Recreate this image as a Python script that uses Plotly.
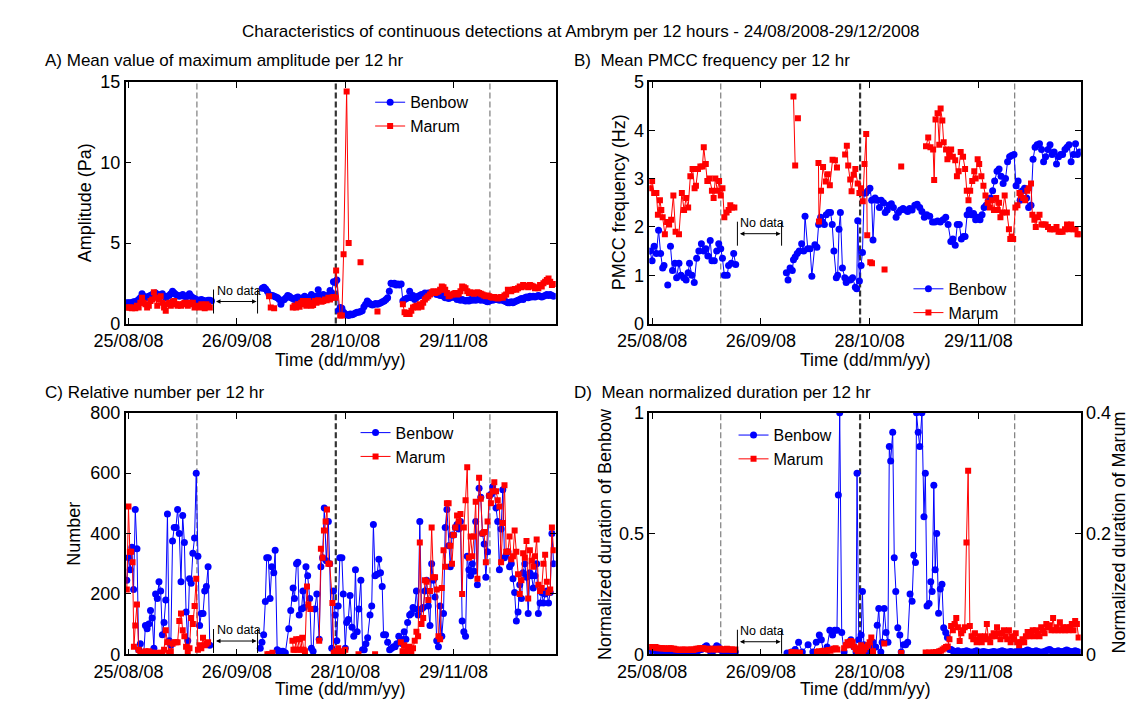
import datetime as dt
import plotly.graph_objects as go

# ---------------------------------------------------------------- data
# Day offsets are counted from 25/08/2008 00:00.  A tuple (start, values)
# is a run of 12-hourly values; a list holds (day, value) readings; None
# marks a break (no data) in the series.
BASE = dt.datetime(2008, 8, 25)
X_RANGE = ["2008-08-24 04:00", "2008-12-29 03:00"]
TICK_DATES = ["2008-08-25", "2008-09-26", "2008-10-28", "2008-11-29"]
TICK_TEXT = ["25/08/08", "26/09/08", "28/10/08", "29/11/08"]
EVENT_DAYS = [20.2, 61.2, 106.7]          # dashed markers (middle one = main event)
NO_DATA_DAYS = [25.1, 38.1]
SERIES_NAMES = ["Benbow", "Marum"]

# A) mean maximum amplitude (Pa)
A_BENBOW = [
    (-0.5, [1.3, 1.3, 1.3, 1.3, 1.35, 1.35, 1.4, 1.5, 1.6, 1.85,
            1.7, 1.6, 1.65, 1.7, 1.75, 1.8, 1.85, 1.9, 1.8, 1.75,
            1.8, 1.85, 1.7, 1.6, 1.7, 1.75, 1.85, 2.0, 1.9, 1.8,
            1.75, 1.7, 1.75, 1.8, 1.7, 1.65, 1.75, 1.85, 1.7, 1.6,
            1.55, 1.5, 1.45, 1.45, 1.5, 1.45, 1.4, 1.4, 1.45, 1.45,
            1.4]),
    None,
    (39.5, [2.2, 2.25, 2.15, 2.0, 1.8, 1.75, 1.75, 1.7, 1.65, 1.6,
            1.5, 1.2, 1.45, 1.5, 1.6, 1.75, 1.7, 1.6, 1.55, 1.5,
            1.6, 1.65, 1.55, 1.45, 1.6, 1.7, 1.55, 1.5, 1.65, 1.8,
            1.7, 1.65, 1.7, 2.1, 1.75, 1.7, 1.8, 1.75, 1.7, 1.75,
            2.05, 1.9, 2.6, 2.55, 2.7, 0.8, 1.0, 0.95, 0.7, 0.6,
            0.55, 0.5, 0.6, 0.55, 0.6, 0.65, 0.7, 0.7, 0.75, 0.8,
            1.05, 1.2, 1.4, 1.3, 1.2, 1.15, 1.2, 1.25, 1.2, 1.25,
            1.3, 1.35, 1.4, 1.5, 1.6, 2.0, 2.5, 2.45, 2.5, 2.4,
            2.45, 2.4, 2.45, 1.4, 1.5, 1.55, 1.6, 2.0, 1.6, 1.75,
            1.5, 1.6, 1.7, 1.75, 1.8, 1.75, 1.9, 1.85, 1.9, 1.85,
            1.9, 1.95, 1.9, 1.8, 1.85, 1.75, 1.8, 1.7, 1.6, 1.65,
            1.55, 1.6, 1.65, 1.7, 1.6, 1.5, 1.55, 1.45, 1.5, 1.45,
            1.4, 1.45, 1.4, 1.5, 1.45, 1.5, 1.45, 1.5, 1.55, 1.45,
            1.5, 1.45, 1.4, 1.35, 1.4, 1.5, 1.45, 1.5, 1.5, 1.5,
            1.45, 1.5, 1.45, 1.4, 1.35, 1.3, 1.3, 1.35, 1.3, 1.35,
            1.4, 1.45, 1.5, 1.55, 1.5, 1.6, 1.65, 1.6, 1.7, 1.65,
            1.7, 1.65, 1.7, 1.75, 1.7, 1.65, 1.7, 1.75, 1.8, 1.75,
            1.8, 1.75, 1.7]),
]
A_MARUM = [
    (-0.5, [1.0, 1.0, 1.0, 0.95, 1.0, 0.95, 1.1, 1.0, 1.3, 1.6,
            1.3, 1.2, 1.0, 1.1, 1.4, 1.5, 1.95, 1.6, 1.1, 1.5,
            1.7, 1.3, 1.0, 0.8, 1.2, 1.3, 1.1, 1.35, 1.4, 1.2,
            1.1, 1.2, 1.1, 1.2, 1.3, 1.25, 1.1, 1.3, 1.2, 1.3,
            1.0, 1.05, 1.1, 1.0, 1.2, 1.15, 0.95, 1.2, 1.1, 1.0]),
    None, (41.5, [1.7, 1.0]),
    None, [(43.0, 0.95)],
    None,
    (48.5, [1.0, 1.1, 1.0, 1.2, 1.05, 1.3, 1.4, 1.2, 1.1, 1.4,
            1.3, 1.1, 1.15, 1.4, 1.3, 1.45, 1.4, 1.35]),
    [(57.5, 1.4), (58.0, 1.5), (58.5, 1.45), (59.0, 1.6), (59.5, 1.5),
     (60.0, 1.6), (60.5, 1.65), (61.0, 1.6), (61.3, 3.3), (62.5, 0.5),
     (63.0, 0.5), (63.5, 4.3), (64.4, 14.4), (65.0, 5.0)],
    None, [(68.5, 3.8)],
    None, [(73.5, 0.75)],
    None,
    (81.0, [1.2, 0.7, 0.6, 0.65, 0.6, 0.8, 1.0, 1.05, 1.1, 1.0,
            1.2, 1.05, 1.3, 1.5, 1.6, 1.7, 1.8, 1.95, 2.0, 1.9,
            1.95, 2.0, 2.1, 2.3, 2.25, 2.1, 1.9, 1.7, 1.75, 1.8,
            1.85, 1.9, 1.8, 1.85, 2.0, 2.3, 2.25, 2.2, 2.0, 1.9,
            1.95, 1.9, 1.85, 1.9, 1.95, 1.9, 1.85, 1.8, 1.75, 1.7,
            1.75, 1.7, 1.65, 1.6, 1.65, 1.6, 1.55, 1.6, 1.65, 1.6,
            1.75, 1.8, 2.1, 2.05, 2.0, 2.1, 2.15, 2.1, 2.2, 2.3,
            2.25, 2.4, 2.3, 2.35, 2.25, 2.4, 2.35, 2.3, 2.2, 2.25,
            2.2, 2.4, 2.3, 2.5, 2.6, 2.7, 2.8, 2.6, 2.4, 2.45]),
]

# B) mean PMCC frequency (Hz)
B_BENBOW = [
    [(-0.6, 1.5), (0.0, 1.3), (0.6, 1.6), (1.25, 1.45), (1.9, 1.93),
     (2.5, 1.45), (3.1, 1.15), (3.5, 1.2)],
    None, [(4.6, 0.8)], None,
    [(5.4, 1.6), (6.0, 1.1), (6.7, 1.25), (7.2, 0.95), (7.9, 1.25),
     (8.5, 1.0), (9.3, 0.95), (10.0, 0.9), (10.6, 1.05), (11.0, 1.25),
     (11.7, 1.0), (12.4, 0.85), (13.1, 1.35), (13.75, 1.5), (14.5, 1.65),
     (15.2, 1.5), (15.8, 1.55), (16.4, 1.4), (17.1, 1.72), (17.6, 1.3),
     (18.3, 1.3), (19.0, 1.5), (19.6, 1.65), (20.2, 1.55), (20.7, 1.35),
     (21.25, 1.0), (22.1, 1.0), (22.5, 1.2), (23.3, 1.25), (24.0, 1.45),
     (24.6, 1.22)],
    None,
    [(39.5, 1.05), (40.0, 0.9), (40.6, 1.15), (41.25, 1.1), (41.6, 1.32),
     (42.1, 1.38), (42.7, 1.45), (43.3, 1.5), (44.0, 1.65), (44.6, 1.5),
     (45.0, 2.22), (45.8, 1.55), (46.5, 1.55), (47.0, 0.98), (47.9, 1.63),
     (48.5, 1.58), (49.0, 2.05), (49.6, 2.2), (50.2, 2.1), (50.7, 2.05),
     (51.25, 2.25), (51.9, 2.3), (52.5, 2.3), (53.0, 2.05), (53.5, 1.5),
     (54.2, 0.95), (54.6, 1.0), (55.0, 1.95), (55.4, 2.3), (56.0, 1.15),
     (56.7, 0.95), (57.1, 0.85), (57.7, 0.9), (58.3, 0.9), (59.0, 0.95),
     (59.8, 0.75), (60.2, 0.72), (60.5, 2.13), (61.0, 0.88), (61.5, 1.2),
     (61.9, 1.47), (62.4, 2.7), (62.9, 2.7), (63.5, 2.75), (64.1, 2.8),
     (64.6, 2.55), (65.0, 1.73), (65.6, 2.6), (66.25, 2.55), (66.9, 2.4),
     (67.4, 2.55), (68.1, 2.5), (68.6, 2.3), (69.2, 2.35), (69.7, 2.45),
     (70.4, 2.48), (71.0, 2.4), (71.8, 2.2), (72.5, 2.3), (73.1, 2.35),
     (73.85, 2.38), (74.6, 2.35), (75.2, 2.32), (75.8, 2.38), (76.5, 2.35),
     (77.3, 2.45), (78.0, 2.47), (78.75, 2.4), (79.4, 2.32), (80.1, 2.2),
     (80.8, 2.25), (81.7, 2.22), (82.5, 2.1), (83.2, 2.1), (84.0, 2.12),
     (84.8, 2.1), (85.6, 2.15), (86.4, 2.2), (87.1, 2.05), (87.9, 1.7),
     (88.5, 1.75), (89.2, 1.62), (89.8, 2.05), (90.4, 2.05), (91.0, 1.75),
     (91.6, 1.8), (92.1, 1.8), (92.7, 2.25), (93.3, 2.35), (94.0, 2.25),
     (94.6, 2.28), (95.2, 2.15), (95.8, 2.2), (96.5, 2.15), (97.1, 2.25),
     (97.7, 2.4), (98.3, 2.45), (99.0, 2.55), (99.6, 2.6), (100.2, 2.75),
     (100.8, 2.95), (101.5, 3.15), (102.1, 3.2), (102.7, 3.05), (103.3, 2.9),
     (104.0, 3.0), (104.6, 3.35), (105.2, 3.45), (105.8, 3.48), (106.5, 3.5),
     (107.1, 2.85), (107.7, 2.95), (108.3, 2.55), (109.0, 2.75), (109.6, 2.8),
     (110.2, 2.6), (110.8, 2.4), (111.5, 2.45), (112.1, 3.4), (112.7, 3.65),
     (113.3, 3.7), (114.0, 3.72), (114.6, 3.6), (115.2, 3.35), (115.8, 3.45),
     (116.5, 3.6), (117.1, 3.7), (117.7, 3.5), (118.3, 3.55), (119.0, 3.3),
     (119.6, 3.45), (120.2, 3.5), (120.8, 3.5), (121.5, 3.6), (122.1, 3.65),
     (122.7, 3.7), (123.3, 3.35), (124.0, 3.5), (124.6, 3.72), (125.2, 3.5),
     (125.8, 3.55)],
]
B_MARUM = [
    [(-0.6, 2.8), (0.0, 2.95), (0.6, 2.7), (1.25, 2.7), (1.7, 2.25),
     (2.3, 2.55), (2.7, 2.35), (3.1, 2.2), (3.75, 1.85), (4.4, 2.1),
     (5.0, 2.05), (5.6, 2.15), (6.25, 2.65), (6.9, 1.9), (7.9, 1.85),
     (8.75, 2.7), (9.4, 2.35), (10.0, 2.6), (10.6, 2.4), (11.25, 3.05),
     (11.9, 3.2), (12.5, 2.8), (12.9, 2.85), (13.5, 3.2), (14.2, 3.25),
     (14.8, 3.25), (15.2, 3.65), (15.8, 3.3), (16.25, 2.95), (16.9, 3.0),
     (17.6, 2.75), (18.1, 2.6), (18.6, 3.0), (19.2, 2.75), (19.7, 2.95),
     (20.2, 2.65), (20.7, 2.8), (21.25, 2.2), (21.9, 2.3), (22.5, 2.35),
     (23.0, 2.45), (23.5, 2.4), (24.2, 2.4)],
    None, [(41.6, 4.7), (42.1, 3.27)],
    None, [(42.9, 4.25)],
    None,
    [(48.95, 3.32), (49.1, 2.11), (49.7, 2.75), (50.3, 3.24), (51.1, 2.94),
     (51.7, 3.09), (52.3, 2.86), (53.1, 3.39), (53.8, 3.38), (54.4, 3.23)],
    None,
    [(56.8, 3.5), (57.3, 3.68), (57.7, 3.27), (58.3, 2.98), (58.7, 2.74),
     (59.3, 3.08), (59.8, 3.2), (60.5, 2.9), (61.0, 2.7), (61.5, 2.8),
     (62.0, 2.53), (62.5, 3.3), (63.0, 3.92), (63.3, 1.83)],
    None, [(64.2, 1.27), (64.7, 1.25)],
    None, [(68.4, 1.12)],
    None, [(73.3, 3.25)],
    None,
    [(80.6, 3.67), (81.25, 3.85), (81.9, 3.65), (82.7, 3.6), (83.0, 2.97),
     (83.4, 4.22), (84.0, 4.35), (84.5, 3.7), (84.9, 4.45), (85.4, 4.2),
     (85.8, 3.75), (86.5, 3.6), (86.9, 3.4), (87.5, 3.5), (88.0, 3.6),
     (88.5, 3.45), (89.2, 3.38), (89.7, 3.05), (90.2, 3.15), (90.8, 3.55),
     (91.5, 3.45), (92.1, 3.2), (92.6, 2.75), (93.1, 2.55), (93.6, 2.75),
     (94.2, 2.95), (94.8, 3.15), (95.2, 3.0), (95.8, 3.4), (96.25, 3.3),
     (96.9, 3.05), (97.5, 2.85), (98.1, 2.65), (98.75, 2.5), (99.4, 2.4),
     (100.0, 2.55), (100.6, 2.35), (101.25, 2.6), (101.7, 2.35), (102.1, 2.5),
     (102.5, 2.2), (103.1, 2.3), (103.75, 2.65), (104.4, 2.3), (105.0, 1.95),
     (105.4, 1.75), (105.8, 1.8), (106.25, 1.75), (106.9, 2.4), (107.5, 2.45),
     (108.1, 2.7), (108.5, 2.65), (109.2, 2.6), (109.8, 2.55), (110.4, 2.75),
     (110.8, 2.8), (111.5, 2.9), (111.9, 2.25), (112.5, 2.15), (112.9, 2.0),
     (113.3, 2.2), (114.0, 2.25), (114.6, 2.05), (115.2, 2.05), (115.8, 2.05),
     (116.5, 2.0), (117.1, 1.95), (117.7, 1.95), (118.3, 1.95), (119.0, 2.0),
     (119.6, 1.9), (120.2, 1.9), (120.8, 1.9), (121.5, 1.95), (122.1, 2.05),
     (122.7, 1.95), (123.3, 2.05), (124.0, 1.95), (124.6, 1.95), (125.2, 1.85),
     (125.8, 1.85)],
]

# C) relative number per 12 hr
C_BENBOW = [
    (-0.5, [245, 320, 280, 355, 215, 480, 350, 15, 35, 5,
            0, 95, 85, 100, 145, 120, 20, 200, 185, 240,
            210, 65, 105, 180, 465, 45, 30, 375, 420, 420,
            480, 400, 240, 460, 370, 140, 45, 250, 235, 335,
            385, 600, 325, 95, 135, 135, 210, 225, 290, 30]),
    None,
    [(38.9, 20), (39.4, 40), (39.9, 65), (40.4, 175), (40.8, 320),
     (41.3, 320), (41.8, 185), (42.3, 290), (42.9, 270), (43.3, 345),
     (43.9, 15), (44.4, 0), (44.9, 10), (45.6, 10), (46.3, 5),
     (47.3, 85), (47.9, 145), (48.6, 220), (49.0, 185), (49.6, 300),
     (50.0, 305), (50.4, 130), (51.1, 150), (51.5, 210), (51.9, 155),
     (52.4, 290), (52.9, 260), (53.5, 185), (54.0, 20), (54.5, 10),
     (55.0, 150), (55.6, 200), (56.3, 50), (56.8, 290), (57.3, 320),
     (57.8, 485), (58.4, 310), (59.0, 440), (59.4, 300), (60.0, 20),
     (60.5, 210), (61.0, 130), (61.5, 45), (61.9, 160), (62.4, 320),
     (63.0, 320), (63.4, 200), (64.0, 20), (64.4, 105), (64.9, 115),
     (65.4, 195), (66.0, 90), (66.5, 60), (67.0, 280), (67.5, 75),
     (68.0, 150), (68.6, 245), (69.1, 15), (69.6, 15), (70.1, 35),
     (70.6, 55), (71.3, 130), (71.8, 160), (72.3, 430), (72.8, 260),
     (73.4, 265), (73.9, 315), (74.4, 270), (74.9, 225), (75.3, 65),
     (75.9, 65), (76.5, 40), (77.1, 15), (77.7, 20), (78.2, 25),
     (78.7, 25), (79.2, 35), (79.8, 60), (80.4, 50), (80.9, 35),
     (81.4, 75), (81.9, 50), (82.4, 105), (83.0, 130), (83.5, 135),
     (84.0, 155), (84.5, 150), (85.0, 210), (85.5, 130)],
    (86.0, [440, 150, 155, 210, 245, 160, 95, 300, 245, 190,
            45, 25, 160, 60, 135, 420, 480, 360, 290, 395,
            395, 420, 430, 415, 440, 110, 75, 60, 325, 280,
            260, 300, 275, 440, 230, 550, 520, 400, 365, 255,
            340, 525, 530, 555, 540, 485, 440, 280, 415, 545,
            320, 330, 340, 290, 300, 250, 205, 110, 140, 230,
            185, 270, 300, 255, 135, 270, 260, 220, 260, 300,
            135, 170, 205, 170, 200, 210, 170, 205, 400, 300]),
]
C_MARUM = [
    [(-0.5, 215), (0.0, 490), (0.4, 340), (0.8, 340), (1.2, 305),
     (1.6, 25), (2.0, 95), (2.5, 165), (3.0, 15), (3.5, 5),
     (4.0, 5), (5.0, 10), (5.5, 5), (6.0, 10), (6.5, 5),
     (7.0, 5), (8.0, 5), (8.5, 0), (9.5, 5), (10.0, 5),
     (10.5, 15), (11.0, 80), (11.5, 40), (12.0, 5), (12.5, 10),
     (13.0, 35), (13.5, 40), (14.0, 40), (14.5, 40), (15.0, 110),
     (15.5, 135), (16.0, 80), (16.5, 60), (17.0, 25), (17.5, 10),
     (18.0, 20), (18.5, 120), (19.0, 100), (19.5, 160), (20.0, 250),
     (20.5, 15), (21.0, 30), (21.5, 20), (22.0, 55), (22.5, 30),
     (23.0, 35), (23.5, 40)],
    None, [(41.0, 0), (41.5, 0), (42.5, 5)],
    None,
    [(48.4, 45), (48.7, 15), (49.1, 15), (49.5, 50), (49.9, 15),
     (50.4, 50), (50.9, 15), (51.3, 55), (51.7, 15), (52.1, 10),
     (52.7, 225), (53.1, 165), (53.7, 150)],
    None,
    [(56.3, 45), (56.8, 350), (57.3, 320), (57.7, 410), (58.2, 440),
     (58.6, 480), (59.0, 300), (59.4, 300), (60.2, 170), (60.6, 5),
     (61.2, 10), (61.9, 20), (62.3, 5), (62.7, 10), (63.4, 5), (64.0, 15)],
    None, [(67.9, 0)],
    None, [(72.8, 0)],
    None,
    [(80.4, 40), (80.9, 10), (81.4, 30), (81.9, 5), (82.4, 15),
     (83.0, 25), (83.5, 5), (84.0, 20), (84.5, 45), (85.0, 75), (85.5, 60)],
    (86.0, [370, 100, 120, 245, 240, 180, 210, 420, 255, 255,
            215, 60, 50, 220, 345, 290, 500, 500, 360, 300,
            395, 420, 460, 440, 465, 200, 420, 510, 620, 320,
            390, 325, 390, 505, 250, 585, 515, 400, 405, 305,
            440, 525, 500, 540, 570, 540, 510, 490, 305, 435,
            560, 340, 340, 390, 315, 325, 410, 340, 265, 200,
            245, 335, 320, 375, 185, 345, 310, 290, 325, 380,
            230, 210, 220, 300, 330, 240, 205, 215, 420, 345]),
]

# D) mean normalized duration (Benbow: left axis, Marum: right axis)
D_BENBOW = [
    (-0.5, [0.015, 0.02, 0.02, 0.015, 0.01, 0.01, 0.015, 0.01, 0.01, 0.005,
            0.01, 0.005, 0.01, 0.01, 0.005, 0.01, 0.01, 0.015, 0.01, 0.01,
            0.01, 0.015, 0.01, 0.01, 0.015, 0.01, 0.015, 0.02, 0.015, 0.02,
            0.02, 0.025, 0.03, 0.035, 0.025, 0.015, 0.01, 0.015, 0.025, 0.035,
            0.03, 0.02, 0.015, 0.01, 0.005, 0.005, 0.01, 0.005, 0.01, 0.01,
            0.01]),
    None,
    [(39.7, 0.005), (41.0, 0.01), (42.1, 0.02), (43.1, 0.05), (44.2, 0.01),
     (45.9, 0.04), (47.3, 0.01), (48.3, 0.05), (49.2, 0.08), (49.8, 0.06),
     (50.4, 0.01), (51.5, 0.03), (52.3, 0.1), (53.1, 0.08), (53.75, 0.1),
     (54.4, 0.1), (54.8, 0.66), (55.2, 1.0), (55.8, 0.09), (56.5, 0.01),
     (57.3, 0.04), (57.9, 0.05), (58.5, 0.06), (59.4, 0.03), (60.0, 0.01),
     (60.3, 0.75), (60.8, 0.06), (61.5, 0.08), (61.9, 0.26), (62.3, 0.04),
     (62.9, 0.03), (63.5, 0.01), (64.2, 0.03), (65.0, 0.05), (65.8, 0.03),
     (66.25, 0.12), (66.7, 0.19), (67.3, 0.01), (67.7, 0.05), (68.3, 0.19),
     (68.85, 0.09), (69.4, 0.05), (69.8, 0.86), (70.2, 0.8), (70.8, 0.92),
     (71.25, 0.4), (71.7, 0.26), (72.3, 0.11), (72.9, 0.08), (73.3, 0.01),
     (74.0, 0.04), (74.6, 0.04), (75.2, 0.05), (75.9, 0.25), (76.5, 0.22),
     (77.0, 0.41), (77.5, 0.38), (77.8, 1.0), (78.3, 0.92), (78.75, 0.86),
     (79.4, 1.0), (80.0, 0.57), (80.4, 0.75), (80.9, 0.2), (81.5, 0.21),
     (82.0, 0.3), (82.4, 0.26), (82.9, 0.7), (83.3, 0.35), (83.75, 0.5),
     (84.3, 0.17), (84.8, 0.27), (85.3, 0.29), (85.8, 0.11), (86.4, 0.09),
     (86.9, 0.07), (87.5, 0.02)],
    (88.0, [0.02, 0.015, 0.01, 0.012, 0.015, 0.01, 0.008, 0.012, 0.01, 0.015,
            0.012, 0.01, 0.008, 0.01, 0.012, 0.015, 0.01, 0.008, 0.01, 0.012,
            0.01, 0.008, 0.006, 0.008, 0.01, 0.012, 0.01, 0.008, 0.01, 0.012,
            0.015, 0.012, 0.01, 0.008, 0.01, 0.012, 0.01, 0.008, 0.01, 0.012,
            0.015, 0.012, 0.01, 0.012, 0.015, 0.018, 0.015, 0.012, 0.01, 0.012,
            0.015, 0.012, 0.01, 0.008, 0.01, 0.012, 0.015, 0.018, 0.02, 0.015,
            0.012, 0.01, 0.012, 0.015, 0.012, 0.01, 0.012, 0.015, 0.018, 0.015,
            0.012, 0.01, 0.012, 0.015, 0.012, 0.01]),
]
D_MARUM = [
    (-0.5, [0.012, 0.012, 0.011, 0.012, 0.011, 0.01, 0.01, 0.01, 0.01, 0.009,
            0.009, 0.01, 0.01, 0.009, 0.009, 0.008, 0.008, 0.007, 0.007, 0.008,
            0.008, 0.007, 0.007, 0.008, 0.008, 0.007, 0.008, 0.009, 0.009, 0.01,
            0.01, 0.01, 0.009, 0.009, 0.008, 0.008, 0.009, 0.009, 0.008, 0.008,
            0.009, 0.009, 0.008, 0.008, 0.008, 0.009, 0.008, 0.008, 0.008, 0.007,
            0.008]),
    None, (41.0, [0.004, 0.003, 0.003, 0.002, 0.003, 0.002]),
    None, (48.5, [0.004, 0.005, 0.004, 0.005, 0.006, 0.005, 0.006, 0.007,
                  0.006, 0.008, 0.009, 0.01, 0.008]),
    None, (56.5, [0.01, 0.015, 0.02, 0.015, 0.022, 0.02, 0.012, 0.008, 0.005,
                  0.01, 0.015, 0.005, 0.008, 0.012, 0.015, 0.02, 0.028, 0.005]),
    None, [(68.3, 0.018)],
    None, [(73.3, 0.002)],
    None,
    (80.5, [0.003, 0.002, 0.003, 0.002, 0.003, 0.003, 0.004, 0.004, 0.005, 0.006,
            0.008, 0.01, 0.012, 0.013, 0.025, 0.047, 0.04, 0.05, 0.06, 0.045,
            0.022, 0.035, 0.04, 0.045, 0.185, 0.304, 0.047, 0.03, 0.025, 0.035,
            0.02, 0.025, 0.03, 0.02, 0.025, 0.03, 0.05, 0.025, 0.02, 0.03,
            0.035, 0.03, 0.045, 0.035, 0.025, 0.035, 0.04, 0.03, 0.025, 0.04,
            0.02, 0.03, 0.025, 0.035, 0.02, 0.015, 0.02, 0.025, 0.02, 0.03,
            0.037, 0.03, 0.035, 0.04, 0.03, 0.04, 0.035, 0.03, 0.045, 0.04,
            0.035, 0.05, 0.045, 0.048, 0.04, 0.06, 0.04, 0.045, 0.04, 0.053,
            0.04, 0.045, 0.04, 0.045, 0.04, 0.045, 0.05, 0.04, 0.055, 0.05,
            0.028]),
]

# ---------------------------------------------------------------- helpers
W, H = 1129, 709
FONT = "Liberation Sans, Arial, Helvetica, sans-serif"
BLUE, RED = "#0000ff", "#ff0000"


def when(day):
    return BASE + dt.timedelta(days=day)


def build(series):
    xs, ys = [], []
    for part in series:
        if part is None:
            xs.append(None)
            ys.append(None)
            continue
        if isinstance(part, tuple):
            start, vals = part
            pts = [(start + 0.5 * i, v) for i, v in enumerate(vals)]
        else:
            pts = part
        for d, v in pts:
            xs.append(when(d))
            ys.append(v)
    return xs, ys


def px(x):
    return x / W


def py(y):
    return 1 - y / H


fig = go.Figure()

panels = [
    # xaxis, yaxis, legend, benbow data, marum data, marum yaxis
    ("x", "y", "legend", A_BENBOW, A_MARUM, "y"),
    ("x2", "y2", "legend2", B_BENBOW, B_MARUM, "y2"),
    ("x3", "y3", "legend3", C_BENBOW, C_MARUM, "y3"),
    ("x4", "y4", "legend4", D_BENBOW, D_MARUM, "y5"),
]

for xa, ya, lg, ben, mar, ya_m in panels:
    bx, by = build(ben)
    mx, my = build(mar)
    fig.add_trace(go.Scatter(
        x=bx, y=by, name=SERIES_NAMES[0], mode="lines+markers",
        xaxis=xa, yaxis=ya, legend=lg, connectgaps=False, cliponaxis=True,
        line=dict(color=BLUE, width=1),
        marker=dict(symbol="circle", size=7, color=BLUE, line=dict(width=0))))
    fig.add_trace(go.Scatter(
        x=mx, y=my, name=SERIES_NAMES[1], mode="lines+markers",
        xaxis=xa, yaxis=ya_m, legend=lg, connectgaps=False, cliponaxis=True,
        line=dict(color=RED, width=1),
        marker=dict(symbol="square", size=6, color=RED, line=dict(width=0))))

# axis geometry (pixels of the 1129x709 canvas)
LEFT_X = [px(96.4), px(539.0)]
RIGHT_X = [px(635.3), px(1079.3)]
TOP_Y = [py(322.7), py(74.0)]
BOT_Y = [py(663.0), py(414.5)]

common_x = dict(
    type="date", range=X_RANGE, tickvals=TICK_DATES, ticktext=TICK_TEXT,
    showline=True, linecolor="black", linewidth=1.5, mirror="ticks",
    ticks="inside", ticklen=6, tickwidth=1, tickcolor="black",
    showgrid=False, zeroline=False,
    tickfont=dict(family=FONT, size=18, color="black"))
common_y = dict(
    showline=True, linecolor="black", linewidth=1.5, mirror="ticks",
    ticks="inside", ticklen=6, tickwidth=1, tickcolor="black",
    showgrid=False, zeroline=False,
    tickfont=dict(family=FONT, size=18, color="black"))

fig.update_layout(
    xaxis=dict(common_x, domain=LEFT_X, anchor="y"),
    yaxis=dict(common_y, domain=TOP_Y, anchor="x", range=[0, 15],
               tickvals=[0, 5, 10, 15]),
    xaxis2=dict(common_x, domain=RIGHT_X, anchor="y2"),
    yaxis2=dict(common_y, domain=TOP_Y, anchor="x2", range=[0, 5],
                tickvals=[0, 1, 2, 3, 4, 5]),
    xaxis3=dict(common_x, domain=LEFT_X, anchor="y3"),
    yaxis3=dict(common_y, domain=BOT_Y, anchor="x3", range=[0, 800],
                tickvals=[0, 200, 400, 600, 800]),
    xaxis4=dict(common_x, domain=RIGHT_X, anchor="y4"),
    yaxis4=dict(common_y, domain=BOT_Y, anchor="x4", range=[0, 1],
                tickvals=[0, 0.5, 1], ticktext=["0", "0.5", "1"], mirror=False),
    yaxis5=dict(common_y, overlaying="y4", anchor="x4", side="right",
                range=[0, 0.4], tickvals=[0, 0.2, 0.4],
                ticktext=["0", "0.2", "0.4"], mirror=False),
)

# legends
legend_style = dict(xanchor="left", yanchor="top", bgcolor="rgba(0,0,0,0)",
                    borderwidth=0, font=dict(family=FONT, size=16, color="black"),
                    tracegroupgap=0, itemwidth=30)
fig.update_layout(
    legend=dict(legend_style, x=px(348), y=py(77.5)),
    legend2=dict(legend_style, x=px(902), y=py(269.5)),
    legend3=dict(legend_style, x=px(333), y=py(417.5)),
    legend4=dict(legend_style, x=px(722), y=py(420)),
)

shapes = []
annotations = []

# dashed event markers
for xa, ya in [("x", "y"), ("x2", "y2"), ("x3", "y3"), ("x4", "y4")]:
    for i, d in enumerate(EVENT_DAYS):
        main = (i == 1)
        shapes.append(dict(
            type="line", xref=xa, yref=f"{ya} domain",
            x0=when(d), x1=when(d), y0=0, y1=1, layer="below",
            line=dict(color="#333333" if main else "#707070",
                      width=2.2 if main else 1.1, dash="6px,3px")))

# "No data" gap markers
NO_DATA_LEVEL = {"y": 1.37, "y2": 1.86, "y3": 44, "y4": 0.052}
for xa, ya in [("x", "y"), ("x2", "y2"), ("x3", "y3"), ("x4", "y4")]:
    lvl = NO_DATA_LEVEL[ya]
    d0, d1 = NO_DATA_DAYS
    for d in (d0, d1):
        shapes.append(dict(
            type="line", xref=xa, yref=ya, x0=when(d), x1=when(d),
            ysizemode="pixel", yanchor=lvl, y0=-12, y1=12,
            line=dict(color="black", width=1)))
    annotations.append(dict(
        x=when(d1), y=lvl, ax=when(d0), ay=lvl, xref=xa, yref=ya,
        axref=xa, ayref=ya, text="", showarrow=True, arrowhead=2,
        arrowsize=0.9, arrowwidth=1, arrowside="end+start",
        arrowcolor="black", standoff=1, startstandoff=1))
    annotations.append(dict(
        x=when(d0), y=lvl, xref=xa, yref=ya, text="No data", showarrow=False,
        xanchor="left", yanchor="middle", xshift=1, yshift=11,
        font=dict(family=FONT, size=12.5, color="black")))


def text(s, x, y, size, xanchor="left", angle=0):
    annotations.append(dict(
        text=s, x=px(x), y=py(y), xref="paper", yref="paper",
        xanchor=xanchor, yanchor="middle", showarrow=False, textangle=angle,
        font=dict(family=FONT, size=size, color="black")))


text("Characteristics of continuous detections at Ambrym per 12 hours - "
     "24/08/2008-29/12/2008", 564.5, 21.7, 17, "center")
text("A) Mean value of maximum amplitude per 12 hr", 11, 52, 17)
text("B)\u00a0\u00a0Mean PMCC frequency per 12 hr", 556, 52, 17)
text("C) Relative number per 12 hr", 11, 393.3, 17)
text("D)\u00a0\u00a0Mean normalized duration per 12 hr", 556, 393.3, 17)

text("Amplitude (Pa)", 54.5, 198, 18, "center", -90)
text("PMCC frequency (Hz)", 605, 198, 18, "center", -90)
text("Number", 43.6, 538.5, 18, "center", -90)
text("Normalized duration of Benbow", 589, 539, 18, "center", -90)
text("Normalized duration of Marum", 1118.5, 538, 18, "center", -90)

for cx, cy in [(317.7, 360.0), (857.3, 360.0), (317.3, 699.0), (857.3, 699.0)]:
    text("Time (dd/mm/yy)", cx, cy, 17.5, "center")

fig.update_layout(
    width=W, height=H, autosize=False,
    margin=dict(l=0, r=0, t=0, b=0),
    paper_bgcolor="white", plot_bgcolor="white",
    font=dict(family=FONT, size=16, color="black"),
    shapes=shapes, annotations=annotations,
)

fig.write_html("out.html", config={"displayModeBar": False},
               post_script="document.body.style.margin='0';")
